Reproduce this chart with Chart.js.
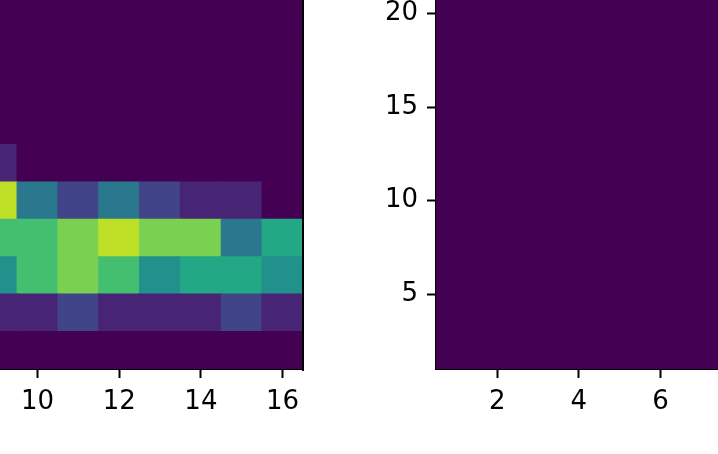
<!DOCTYPE html>
<html>
<head>
<meta charset="utf-8">
<script src="https://cdn.jsdelivr.net/npm/chart.js@4.4.0/dist/chart.umd.min.js"></script>
<style>
  html, body { margin: 0; padding: 0; background: #fff; overflow: hidden; }
  #leftChart { position: absolute; left: 0; top: 0; }
  #rightChart { position: absolute; left: 361px; top: 0; }
</style>
</head>
<body>
<canvas id="leftChart" width="310" height="454"></canvas>
<canvas id="rightChart" width="357" height="454"></canvas>
<script>
// bin centres along x, bin edges along y (shared by both panels)
const leftXCenters = [9, 10, 11, 12, 13, 14, 15, 16];
const rightXCenters = [1, 2, 3, 4, 5, 6, 7];
const yBinEdges = [1, 3, 5, 7, 9, 11, 13, 15, 17, 19, 21];

// counts per y bin, bottom row first
const leftCounts = [
  [0, 0, 0, 0, 0, 0, 0, 0],
  [1, 1, 2, 1, 1, 1, 2, 1],
  [5, 7, 8, 7, 5, 6, 6, 5],
  [7, 7, 8, 9, 8, 8, 4, 6],
  [9, 4, 2, 4, 2, 1, 1, 0],
  [1, 0, 0, 0, 0, 0, 0, 0],
  [0, 0, 0, 0, 0, 0, 0, 0],
  [0, 0, 0, 0, 0, 0, 0, 0],
  [0, 0, 0, 0, 0, 0, 0, 0],
  [0, 0, 0, 0, 0, 0, 0, 0]
];
const rightCounts = [
  [0, 0, 0, 0, 0, 0, 0],
  [0, 0, 0, 0, 0, 0, 0],
  [0, 0, 0, 0, 0, 0, 0],
  [0, 0, 0, 0, 0, 0, 0],
  [0, 0, 0, 0, 0, 0, 0],
  [0, 0, 0, 0, 0, 0, 0],
  [0, 0, 0, 0, 0, 0, 0],
  [0, 0, 0, 0, 0, 0, 0],
  [0, 0, 0, 0, 0, 0, 0],
  [0, 0, 0, 0, 0, 0, 0]
];
const colorMax = 10;

const leftXTicks = [10, 12, 14, 16];
const rightXTicks = [2, 4, 6];
const yTicks = [5, 10, 15, 20];

const viridisStops = ['#440154', '#482475', '#414487', '#355f8d', '#2a788e', '#21918c',
  '#22a884', '#44bf70', '#7ad151', '#bddf26', '#fde725'];

function viridis(t) {
  t = Math.min(1, Math.max(0, t)) * (viridisStops.length - 1);
  const i = Math.min(Math.floor(t), viridisStops.length - 2);
  const f = t - i;
  const a = viridisStops[i], b = viridisStops[i + 1];
  const ch = (h, k) => parseInt(h.substr(1 + 2 * k, 2), 16);
  const mix = k => Math.round(ch(a, k) + (ch(b, k) - ch(a, k)) * f);
  return `rgb(${mix(0)}, ${mix(1)}, ${mix(2)})`;
}

function cellDatasets(xCenters, counts) {
  return counts.map((row, r) => ({
    data: row.map((c, i) => ({ x: xCenters[i], y: [yBinEdges[r], yBinEdges[r + 1]] })),
    backgroundColor: row.map(c => viridis(c / colorMax)),
    borderWidth: 0,
    inflateAmount: 0.6,
    grouped: false,
    barPercentage: 1,
    categoryPercentage: 1
  }));
}

function axis(ticks, min, max, size, isX) {
  return {
    type: 'linear',
    min: min,
    max: max,
    offset: false,
    beginAtZero: false,
    afterBuildTicks: scale => { scale.ticks = ticks.map(v => ({ value: v })); },
    afterFit: scale => {
      if (isX) scale.height = size; else scale.width = size;
      scale.paddingTop = scale.paddingBottom = scale.paddingLeft = scale.paddingRight = 0;
    },
    grid: { display: true, drawOnChartArea: false, drawTicks: true, tickLength: 9, tickWidth: 2, tickColor: '#000', offset: false },
    border: { display: true, color: '#000', width: 2 },
    ticks: { color: '#000', padding: 9, font: { family: 'DejaVu Sans', size: 26 } }
  };
}

// the left panel's right spine
const rightSpine = {
  id: 'rightSpine',
  afterDraw(chart) {
    const { ctx, chartArea } = chart;
    ctx.save();
    ctx.strokeStyle = '#000';
    ctx.lineWidth = 2;
    ctx.beginPath();
    ctx.moveTo(chartArea.right, chartArea.top);
    ctx.lineTo(chartArea.right, chartArea.bottom + 2);
    ctx.stroke();
    ctx.restore();
  }
};

const common = {
  responsive: false,
  devicePixelRatio: 1,
  animation: false,
  events: [],
  plugins: { legend: { display: false }, tooltip: { enabled: false } }
};

new Chart(document.getElementById('leftChart'), {
  type: 'bar',
  data: { datasets: cellDatasets(leftXCenters, leftCounts) },
  options: {
    ...common,
    layout: { padding: { left: 0, top: 0, right: 7, bottom: 0 } },
    scales: {
      x: axis(leftXTicks, 9.08, 16.5, 85, true),
      y: { ...axis(yTicks, 1, 20.73, 0, false), display: false }
    }
  },
  plugins: [rightSpine]
});

new Chart(document.getElementById('rightChart'), {
  type: 'bar',
  data: { datasets: cellDatasets(rightXCenters, rightCounts) },
  options: {
    ...common,
    layout: { padding: 0 },
    scales: {
      x: axis(rightXTicks, 0.5, 7.41, 85, true),
      y: axis(yTicks, 1, 20.73, 75, false)
    }
  }
});
</script>
</body>
</html>
